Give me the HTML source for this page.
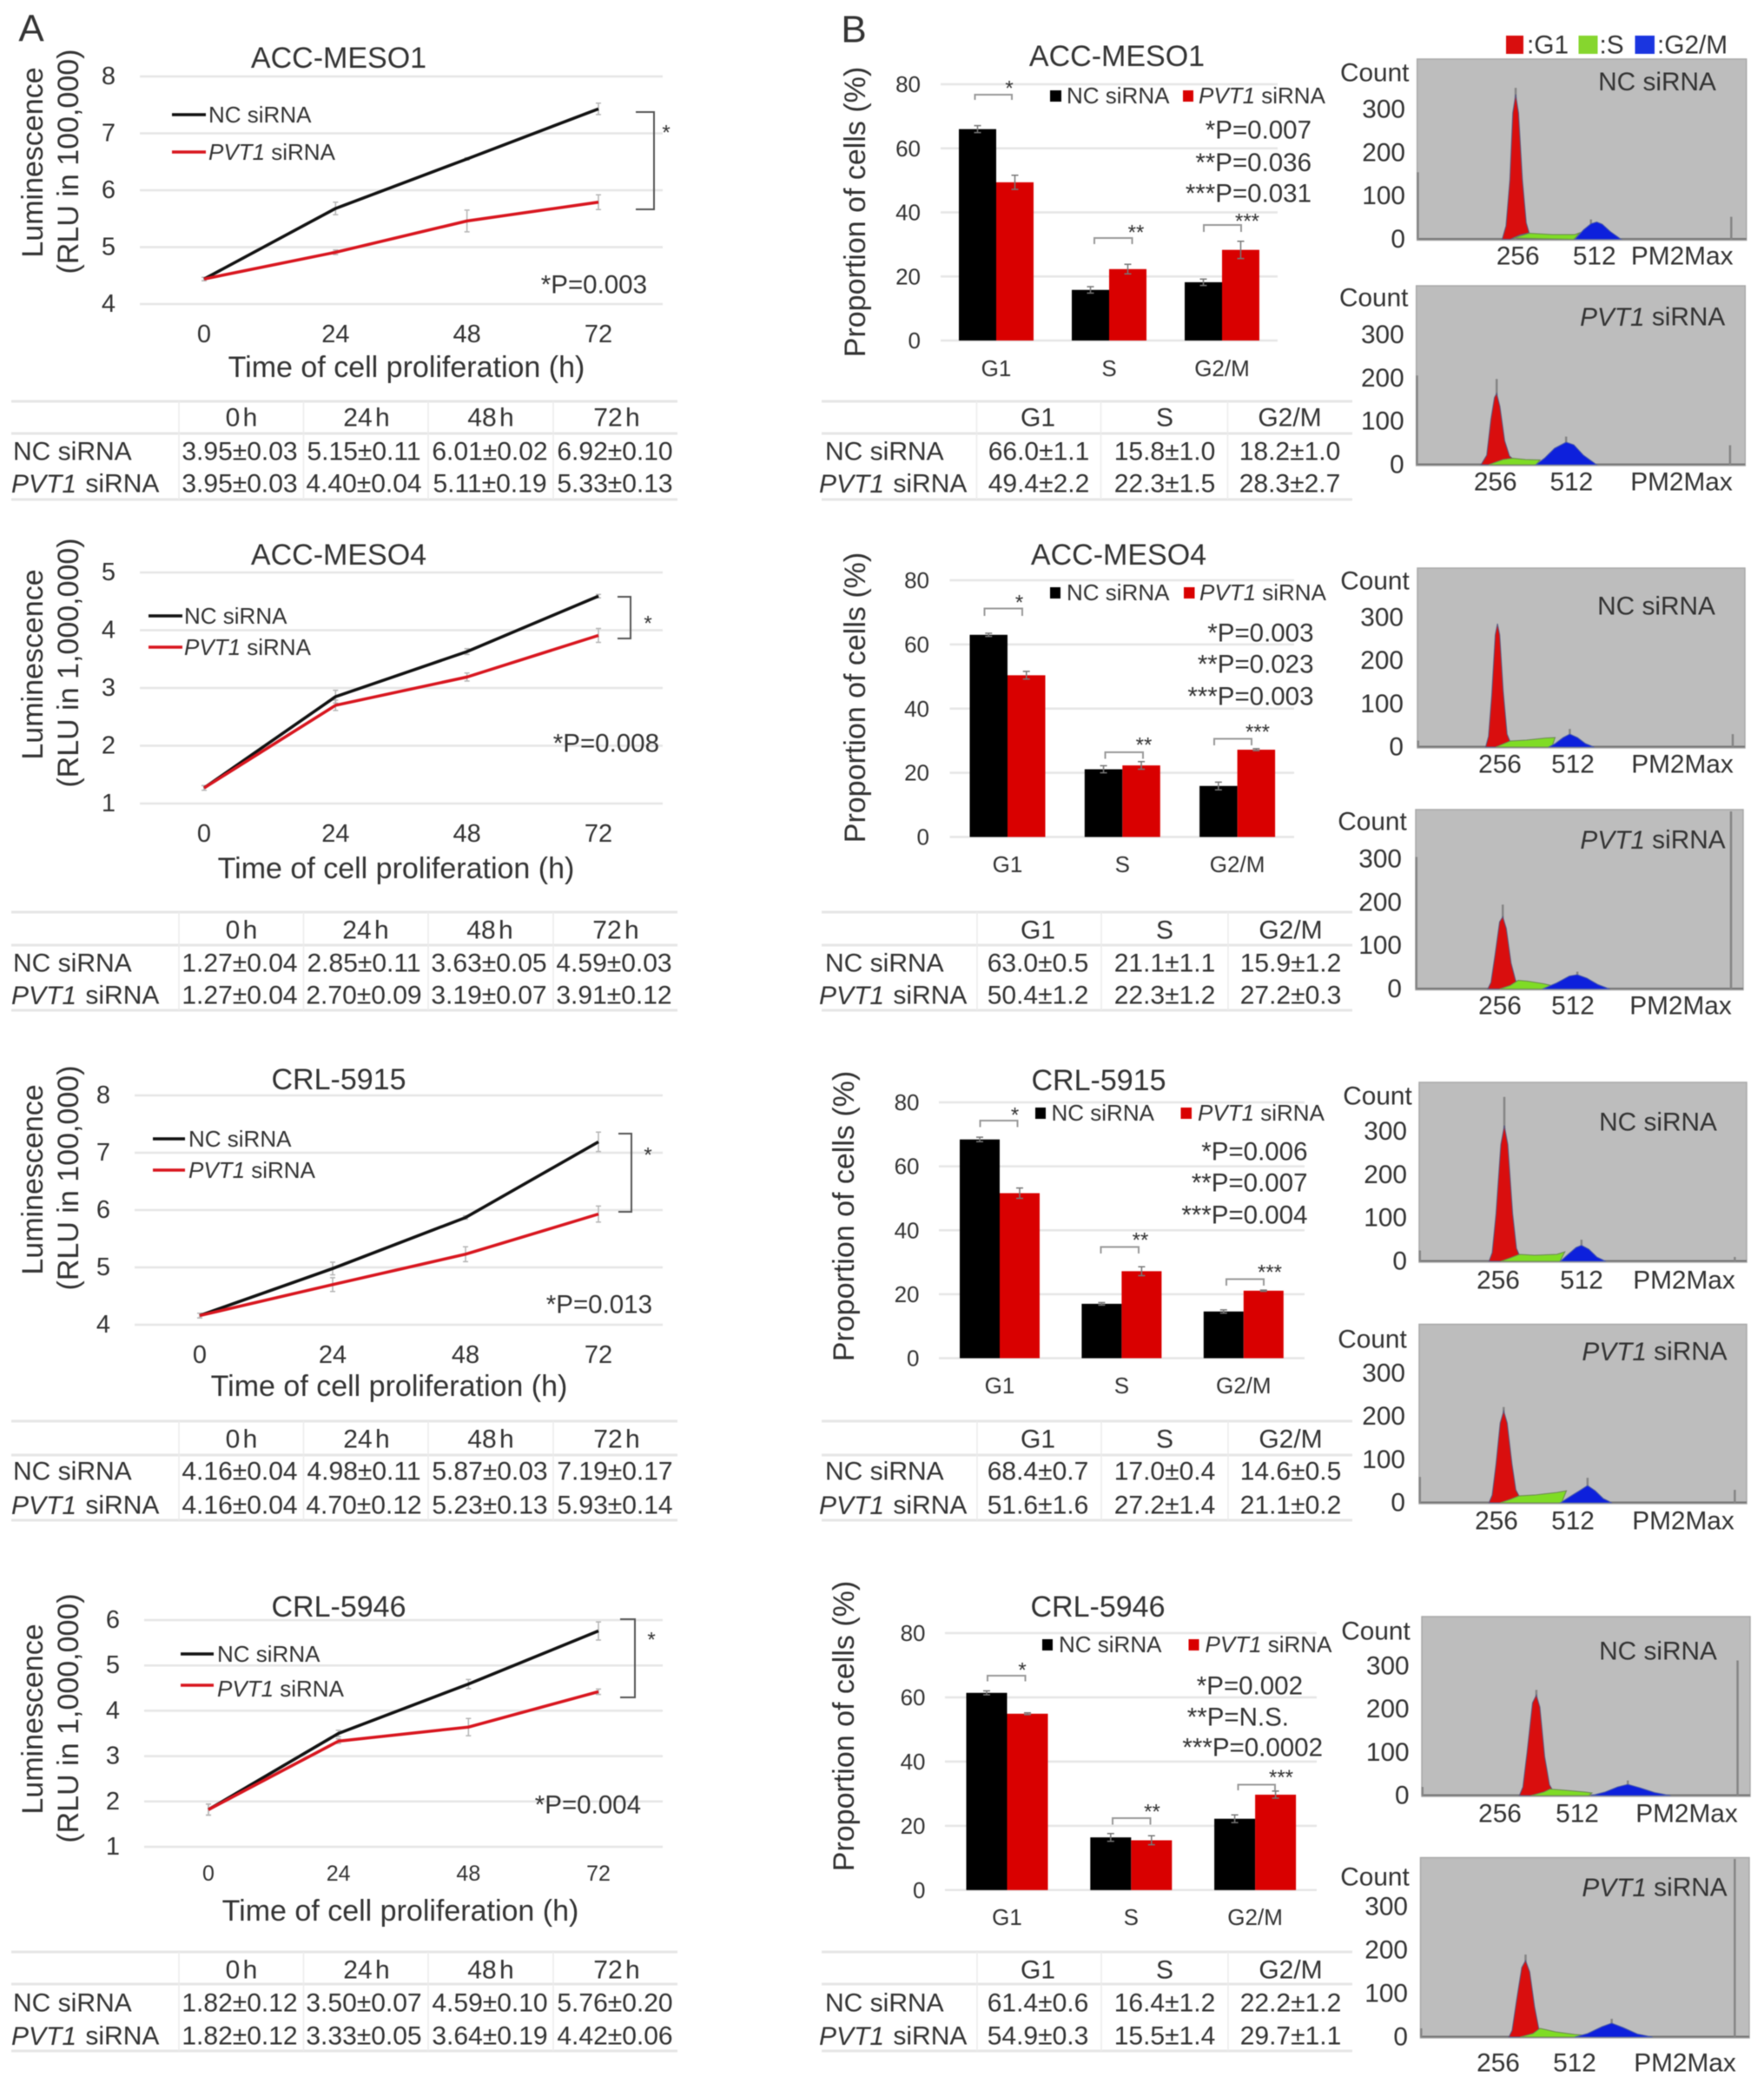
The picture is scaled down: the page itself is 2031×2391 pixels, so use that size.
<!DOCTYPE html>
<html lang="en"><head><meta charset="utf-8"><title>PVT1 siRNA proliferation and cell cycle</title>
<style>
html,body{margin:0;padding:0;background:#fff}
svg{display:block;filter:blur(.6px)}
text{font-family:"Liberation Sans",sans-serif;fill:#333;dominant-baseline:central}
.m{text-anchor:middle}.e{text-anchor:end}
.f42{font-size:44px}.f33{font-size:34px}.f31{font-size:34px}.f30{font-size:30px}.f295{font-size:29.5px}.f28{font-size:29.8px}.f26{font-size:26px}
.st{font-size:24px;text-anchor:middle;transform:translateY(6px)}
.h{word-spacing:-5px}.w{word-spacing:2px}
i,.i{font-style:italic}
.hl{fill:none;stroke:#e6e6e6;stroke-width:3}.vl{fill:none;stroke:#ececec;stroke-width:1.5}
.br{fill:none;stroke:#555;stroke-width:2}.sb{fill:none;stroke:#999;stroke-width:2}
</style></head><body>
<svg id="figure" width="2031" height="2391" viewBox="0 0 2031 2391">
<rect width="2031" height="2391" fill="#fff"/>
<g id="marks"></g>

<!-- ROW 1 -->
<g>
<text class="f42 m" x="36" y="33">A</text>
<text class="f33 m" x="390" y="67">ACC-MESO1</text>
<text class="f33 m" x="38" y="187" transform="rotate(-90 38 187)">Luminescence</text>
<text class="f33 m" x="79" y="186" transform="rotate(-90 79 186)">(RLU in 100,000)</text>
<text class="f33 m" x="468" y="423">Time of cell proliferation (h)</text>
<path d="M198 132H237" stroke="#111" stroke-width="3.5"/>
<text class="f26" x="240" y="132">NC siRNA</text>
<path d="M198 175H237" stroke="#d8151e" stroke-width="3.5"/>
<text class="f26" x="240" y="175"><tspan class="i">PVT1</tspan> siRNA</text>
<path class="br" d="M732 129H753V241H732"/>
<text class="st" x="767" y="147">*</text>
<text class="f295 e" x="745" y="328">*P=0.003</text>
<path class="hl" d="M13 462H780M13 499H780M13 575H780"/>
<path class="vl" d="M206 462V575M349.500 462V575M493 462V575M637 462V575"/>
<text class="f30 m h" x="278" y="481">0 h</text>
<text class="f30 m h" x="422" y="481">24 h</text>
<text class="f30 m h" x="565" y="481">48 h</text>
<text class="f30 m h" x="710" y="481">72 h</text>
<text class="f30" x="15" y="520">NC siRNA</text>
<text class="f30 m" x="276" y="520">3.95±0.03</text>
<text class="f30 m" x="419" y="520">5.15±0.11</text>
<text class="f30 m" x="564" y="520">6.01±0.02</text>
<text class="f30 m" x="708" y="520">6.92±0.10</text>
<text class="f30 w" x="13" y="557"><tspan class="i">PVT1</tspan> siRNA</text>
<text class="f30 m" x="276" y="557">3.95±0.03</text>
<text class="f30 m" x="419" y="557">4.40±0.04</text>
<text class="f30 m" x="564" y="557">5.11±0.19</text>
<text class="f30 m" x="708" y="557">5.33±0.13</text>
</g>
<g>
<text class="f42 m" x="983" y="34">B</text>
<text class="f33 m" x="1286" y="65">ACC-MESO1</text>
<text class="f31 m" x="985" y="244" transform="rotate(-90 985 244)">Proportion of cells (%)</text>
<rect x="1209" y="104" width="13" height="13" fill="#000"/>
<text class="f26" x="1228" y="110">NC siRNA</text>
<rect x="1362" y="104" width="12" height="13" fill="#d90000"/>
<text class="f26" x="1380" y="110"><tspan class="i">PVT1</tspan> siRNA</text>
<text class="f295 e" x="1510" y="150">*P=0.007</text>
<text class="f295 e" x="1510" y="187.500">**P=0.036</text>
<text class="f295 e" x="1510" y="223">***P=0.031</text>
<path class="sb" d="M1122.500 115V109H1165V115"/>
<path class="sb" d="M1260 281V274H1303.500V281"/>
<path class="sb" d="M1386 267V259H1429V267"/>
<text class="st" x="1162" y="96">*</text>
<text class="st" x="1308" y="262">**</text>
<text class="st" x="1436" y="249">***</text>
<path class="hl" d="M946 462H1557M946 499H1557M946 575H1557"/>
<path class="vl" d="M1124.500 462V575M1267.500 462V575M1413.500 462V575"/>
<text class="f30 m" x="1195" y="481">G1</text>
<text class="f30 m" x="1341" y="481">S</text>
<text class="f30 m" x="1485" y="481">G2/M</text>
<text class="f30" x="950" y="520">NC siRNA</text>
<text class="f30 m" x="1196" y="520">66.0±1.1</text>
<text class="f30 m" x="1341" y="520">15.8±1.0</text>
<text class="f30 m" x="1485" y="520">18.2±1.0</text>
<text class="f30 w" x="943" y="557"><tspan class="i">PVT1</tspan> siRNA</text>
<text class="f30 m" x="1196" y="557">49.4±2.2</text>
<text class="f30 m" x="1341" y="557">22.3±1.5</text>
<text class="f30 m" x="1485" y="557">28.3±2.7</text>
</g>
<g>
<rect x="1734" y="41" width="20" height="21" fill="#d90e0e"/>
<text class="f28" x="1758" y="52">:G1</text>
<rect x="1817.500" y="41" width="22" height="21" fill="#86d62e"/>
<text class="f28" x="1841.500" y="52">:S</text>
<rect x="1882.500" y="41" width="22.500" height="21" fill="#1a35e0"/>
<text class="f28" x="1908" y="52">:G2/M</text>
</g>
<g>
<text class="f28 m" x="1582.700" y="84">Count</text>
<text class="f28 m" x="1908" y="94.500">NC siRNA</text>
<text class="f28 m" x="1747.700" y="295">256</text>
<text class="f28 m" x="1835.700" y="295">512</text>
<text class="f28 m" x="1936.700" y="295">PM2Max</text>
<text class="f28 m" x="1581.700" y="343">Count</text>
<text class="f28 m" x="1902.700" y="365"><tspan class="i">PVT1</tspan> siRNA</text>
<text class="f28 m" x="1721.700" y="555">256</text>
<text class="f28 m" x="1809.300" y="555">512</text>
<text class="f28 m" x="1936" y="555">PM2Max</text>
</g>

<!-- ROW 2 -->
<g>
<text class="f33 m" x="390" y="639">ACC-MESO4</text>
<text class="f33 m" x="38" y="765" transform="rotate(-90 38 765)">Luminescence</text>
<text class="f33 m" x="79" y="763" transform="rotate(-90 79 763)">(RLU in 1,000,000)</text>
<text class="f33 m" x="456" y="1000">Time of cell proliferation (h)</text>
<path d="M171 709H210" stroke="#111" stroke-width="3.5"/>
<text class="f26" x="212" y="709">NC siRNA</text>
<path d="M171 745H210" stroke="#d8151e" stroke-width="3.5"/>
<text class="f26" x="212" y="745"><tspan class="i">PVT1</tspan> siRNA</text>
<path class="br" d="M711 687H726V735H711"/>
<text class="st" x="746" y="712">*</text>
<text class="f295 e" x="759" y="856">*P=0.008</text>
<path class="hl" d="M13 1050H780M13 1088H780M13 1163H780"/>
<path class="vl" d="M206 1050V1163M349.500 1050V1163M493 1050V1163M637 1050V1163"/>
<text class="f30 m h" x="278" y="1071">0 h</text>
<text class="f30 m h" x="421" y="1071">24 h</text>
<text class="f30 m h" x="564" y="1071">48 h</text>
<text class="f30 m h" x="709" y="1071">72 h</text>
<text class="f30" x="15" y="1109">NC siRNA</text>
<text class="f30 m" x="276" y="1109">1.27±0.04</text>
<text class="f30 m" x="419" y="1109">2.85±0.11</text>
<text class="f30 m" x="563" y="1109">3.63±0.05</text>
<text class="f30 m" x="707" y="1109">4.59±0.03</text>
<text class="f30 w" x="13" y="1146"><tspan class="i">PVT1</tspan> siRNA</text>
<text class="f30 m" x="276" y="1146">1.27±0.04</text>
<text class="f30 m" x="419" y="1146">2.70±0.09</text>
<text class="f30 m" x="563" y="1146">3.19±0.07</text>
<text class="f30 m" x="707" y="1146">3.91±0.12</text>
</g>
<g>
<text class="f33 m" x="1288" y="639">ACC-MESO4</text>
<text class="f31 m" x="985" y="803" transform="rotate(-90 985 803)">Proportion of cells (%)</text>
<rect x="1209" y="676" width="12" height="13" fill="#000"/>
<text class="f26" x="1228" y="682">NC siRNA</text>
<rect x="1363" y="676" width="12.500" height="13" fill="#d90000"/>
<text class="f26" x="1381" y="682"><tspan class="i">PVT1</tspan> siRNA</text>
<text class="f295 e" x="1512.500" y="729">*P=0.003</text>
<text class="f295 e" x="1512.500" y="765">**P=0.023</text>
<text class="f295 e" x="1512.500" y="802">***P=0.003</text>
<path class="sb" d="M1133.500 709V700.500H1177V709"/>
<path class="sb" d="M1272.500 873.500V866H1316V873.500"/>
<path class="sb" d="M1398 858V850.500H1441V858"/>
<text class="st" x="1173.500" y="688">*</text>
<text class="st" x="1317" y="852">**</text>
<text class="st" x="1448" y="837">***</text>
<path class="hl" d="M946 1050H1557M946 1088H1557M946 1163H1557"/>
<path class="vl" d="M1125 1050V1163M1268 1050V1163M1414 1050V1163"/>
<text class="f30 m" x="1195" y="1071">G1</text>
<text class="f30 m" x="1341" y="1071">S</text>
<text class="f30 m" x="1486" y="1071">G2/M</text>
<text class="f30" x="950" y="1109">NC siRNA</text>
<text class="f30 m" x="1195" y="1109">63.0±0.5</text>
<text class="f30 m" x="1341" y="1109">21.1±1.1</text>
<text class="f30 m" x="1486" y="1109">15.9±1.2</text>
<text class="f30 w" x="943" y="1146"><tspan class="i">PVT1</tspan> siRNA</text>
<text class="f30 m" x="1195" y="1146">50.4±1.2</text>
<text class="f30 m" x="1341" y="1146">22.3±1.2</text>
<text class="f30 m" x="1486" y="1146">27.2±0.3</text>
</g>
<g>
<text class="f28 m" x="1583" y="669">Count</text>
<text class="f28 m" x="1907" y="698">NC siRNA</text>
<text class="f28 m" x="1727" y="880">256</text>
<text class="f28 m" x="1811" y="880">512</text>
<text class="f28 m" x="1937" y="880">PM2Max</text>
<text class="f28 m" x="1580" y="946">Count</text>
<text class="f28 m" x="1903" y="967"><tspan class="i">PVT1</tspan> siRNA</text>
<text class="f28 m" x="1727" y="1158">256</text>
<text class="f28 m" x="1811" y="1158">512</text>
<text class="f28 m" x="1935" y="1158">PM2Max</text>
</g>

<!-- ROW 3 -->
<g>
<text class="f33 m" x="390" y="1243">CRL-5915</text>
<text class="f33 m" x="38" y="1358" transform="rotate(-90 38 1358)">Luminescence</text>
<text class="f33 m" x="79" y="1356" transform="rotate(-90 79 1356)">(RLU in 100,000)</text>
<text class="f33 m" x="448" y="1596">Time of cell proliferation (h)</text>
<path d="M176 1311H213" stroke="#111" stroke-width="3.5"/>
<text class="f26" x="217" y="1311">NC siRNA</text>
<path d="M176 1347H213" stroke="#d8151e" stroke-width="3.5"/>
<text class="f26" x="217" y="1347"><tspan class="i">PVT1</tspan> siRNA</text>
<path class="br" d="M712 1305H727V1395H712"/>
<text class="st" x="746" y="1324">*</text>
<text class="f295 e" x="751" y="1502">*P=0.013</text>
<path class="hl" d="M13 1636H780M13 1675H780M13 1750H780"/>
<path class="vl" d="M206 1636V1750M349.500 1636V1750M493 1636V1750M637 1636V1750"/>
<text class="f30 m h" x="278" y="1657">0 h</text>
<text class="f30 m h" x="422" y="1657">24 h</text>
<text class="f30 m h" x="565" y="1657">48 h</text>
<text class="f30 m h" x="710" y="1657">72 h</text>
<text class="f30" x="15" y="1694">NC siRNA</text>
<text class="f30 m" x="276" y="1694">4.16±0.04</text>
<text class="f30 m" x="419" y="1694">4.98±0.11</text>
<text class="f30 m" x="564" y="1694">5.87±0.03</text>
<text class="f30 m" x="708" y="1694">7.19±0.17</text>
<text class="f30 w" x="13" y="1733"><tspan class="i">PVT1</tspan> siRNA</text>
<text class="f30 m" x="276" y="1733">4.16±0.04</text>
<text class="f30 m" x="419" y="1733">4.70±0.12</text>
<text class="f30 m" x="564" y="1733">5.23±0.13</text>
<text class="f30 m" x="708" y="1733">5.93±0.14</text>
</g>
<g>
<text class="f33 m" x="1265" y="1244">CRL-5915</text>
<text class="f31 m" x="972" y="1400" transform="rotate(-90 972 1400)">Proportion of cells (%)</text>
<rect x="1192" y="1275" width="12" height="13" fill="#000"/>
<text class="f26" x="1210.500" y="1281">NC siRNA</text>
<rect x="1359.500" y="1275" width="12.500" height="13" fill="#d90000"/>
<text class="f26" x="1379" y="1281"><tspan class="i">PVT1</tspan> siRNA</text>
<text class="f295 e" x="1505.500" y="1326">*P=0.006</text>
<text class="f295 e" x="1505.500" y="1362">**P=0.007</text>
<text class="f295 e" x="1505.500" y="1399">***P=0.004</text>
<path class="sb" d="M1128.500 1297.500V1290H1171.500V1297.500"/>
<path class="sb" d="M1267.500 1443V1435.500H1311V1443"/>
<path class="sb" d="M1412 1480V1472.500H1455V1480"/>
<text class="st" x="1168.500" y="1278">*</text>
<text class="st" x="1313" y="1422">**</text>
<text class="st" x="1462" y="1459">***</text>
<path class="hl" d="M946 1636H1557M946 1675H1557M946 1750H1557"/>
<path class="vl" d="M1125 1636V1750M1268 1636V1750M1414 1636V1750"/>
<text class="f30 m" x="1195" y="1657">G1</text>
<text class="f30 m" x="1341" y="1657">S</text>
<text class="f30 m" x="1486" y="1657">G2/M</text>
<text class="f30" x="950" y="1694">NC siRNA</text>
<text class="f30 m" x="1195" y="1694">68.4±0.7</text>
<text class="f30 m" x="1341" y="1694">17.0±0.4</text>
<text class="f30 m" x="1486" y="1694">14.6±0.5</text>
<text class="f30 w" x="943" y="1733"><tspan class="i">PVT1</tspan> siRNA</text>
<text class="f30 m" x="1195" y="1733">51.6±1.6</text>
<text class="f30 m" x="1341" y="1733">27.2±1.4</text>
<text class="f30 m" x="1486" y="1733">21.1±0.2</text>
</g>
<g>
<text class="f28 m" x="1586" y="1262">Count</text>
<text class="f28 m" x="1909" y="1292">NC siRNA</text>
<text class="f28 m" x="1725" y="1474">256</text>
<text class="f28 m" x="1821" y="1474">512</text>
<text class="f28 m" x="1939" y="1474">PM2Max</text>
<text class="f28 m" x="1580" y="1542">Count</text>
<text class="f28 m" x="1905" y="1556"><tspan class="i">PVT1</tspan> siRNA</text>
<text class="f28 m" x="1723" y="1751">256</text>
<text class="f28 m" x="1811" y="1751">512</text>
<text class="f28 m" x="1938" y="1751">PM2Max</text>
</g>

<!-- ROW 4 -->
<g>
<text class="f33 m" x="390" y="1850">CRL-5946</text>
<text class="f33 m" x="38" y="1979" transform="rotate(-90 38 1979)">Luminescence</text>
<text class="f33 m" x="79" y="1978" transform="rotate(-90 79 1978)">(RLU in 1,000,000)</text>
<text class="f33 m" x="461" y="2200">Time of cell proliferation (h)</text>
<path d="M208 1904H246" stroke="#111" stroke-width="3.5"/>
<text class="f26" x="250" y="1904">NC siRNA</text>
<path d="M208 1940H246" stroke="#d8151e" stroke-width="3.5"/>
<text class="f26" x="250" y="1944"><tspan class="i">PVT1</tspan> siRNA</text>
<path class="br" d="M714 1864H731V1954H714"/>
<text class="st" x="750" y="1882">*</text>
<text class="f295 e" x="738" y="2078">*P=0.004</text>
<path class="hl" d="M13 2247H780M13 2284H780M13 2361H780"/>
<path class="vl" d="M206 2247V2361M349.500 2247V2361M493 2247V2361M637 2247V2361"/>
<text class="f30 m h" x="278" y="2268">0 h</text>
<text class="f30 m h" x="422" y="2268">24 h</text>
<text class="f30 m h" x="565" y="2268">48 h</text>
<text class="f30 m h" x="710" y="2268">72 h</text>
<text class="f30" x="15" y="2306">NC siRNA</text>
<text class="f30 m" x="276" y="2306">1.82±0.12</text>
<text class="f30 m" x="419" y="2306">3.50±0.07</text>
<text class="f30 m" x="564" y="2306">4.59±0.10</text>
<text class="f30 m" x="708" y="2306">5.76±0.20</text>
<text class="f30 w" x="13" y="2344"><tspan class="i">PVT1</tspan> siRNA</text>
<text class="f30 m" x="276" y="2344">1.82±0.12</text>
<text class="f30 m" x="419" y="2344">3.33±0.05</text>
<text class="f30 m" x="564" y="2344">3.64±0.19</text>
<text class="f30 m" x="708" y="2344">4.42±0.06</text>
</g>
<g>
<text class="f33 m" x="1264" y="1850">CRL-5946</text>
<text class="f31 m" x="972" y="1987" transform="rotate(-90 972 1987)">Proportion of cells (%)</text>
<rect x="1200" y="1887" width="12" height="13" fill="#000"/>
<text class="f26" x="1219" y="1893">NC siRNA</text>
<rect x="1368.500" y="1887" width="12" height="13" fill="#d90000"/>
<text class="f26" x="1387.500" y="1893"><tspan class="i">PVT1</tspan> siRNA</text>
<text class="f295 e" x="1500" y="1941">*P=0.002</text>
<text class="f295 e" x="1484" y="1977">**P=N.S.</text>
<text class="f295 e" x="1523" y="2012">***P=0.0002</text>
<path class="sb" d="M1137 1935.500V1929H1180.500V1935.500"/>
<path class="sb" d="M1281 2100.500V2093H1324.500V2100.500"/>
<path class="sb" d="M1425.500 2061V2054.500H1468V2061"/>
<text class="st" x="1177" y="1917">*</text>
<text class="st" x="1326.500" y="2080">**</text>
<text class="st" x="1475" y="2040.500">***</text>
<path class="hl" d="M946 2247H1557M946 2284H1557M946 2361H1557"/>
<path class="vl" d="M1125 2247V2361M1268 2247V2361M1414 2247V2361"/>
<text class="f30 m" x="1195" y="2268">G1</text>
<text class="f30 m" x="1341" y="2268">S</text>
<text class="f30 m" x="1486" y="2268">G2/M</text>
<text class="f30" x="950" y="2306">NC siRNA</text>
<text class="f30 m" x="1195" y="2306">61.4±0.6</text>
<text class="f30 m" x="1341" y="2306">16.4±1.2</text>
<text class="f30 m" x="1486" y="2306">22.2±1.2</text>
<text class="f30 w" x="943" y="2344"><tspan class="i">PVT1</tspan> siRNA</text>
<text class="f30 m" x="1195" y="2344">54.9±0.3</text>
<text class="f30 m" x="1341" y="2344">15.5±1.4</text>
<text class="f30 m" x="1486" y="2344">29.7±1.1</text>
</g>
<g>
<text class="f28 m" x="1584" y="1878">Count</text>
<text class="f28 m" x="1909" y="1901">NC siRNA</text>
<text class="f28 m" x="1727" y="2088">256</text>
<text class="f28 m" x="1816" y="2088">512</text>
<text class="f28 m" x="1942" y="2088">PM2Max</text>
<text class="f28 m" x="1583" y="2161">Count</text>
<text class="f28 m" x="1905" y="2173"><tspan class="i">PVT1</tspan> siRNA</text>
<text class="f28 m" x="1725" y="2375">256</text>
<text class="f28 m" x="1813" y="2375">512</text>
<text class="f28 m" x="1940" y="2375">PM2Max</text>
</g>
</svg>
<script>
/* ---------- shared axis data ---------- */
const hours = [0, 24, 48, 72];
const timeLabels = ['0', '24', '48', '72'];
const phaseLabels = ['G1', 'S', 'G2/M'];
const barTicks = [0, 20, 40, 60, 80];
const countTicks = [0, 100, 200, 300];

/* ---------- proliferation line series ---------- */
const meso1Ticks = [4, 5, 6, 7, 8];
const meso1Nc = [4.44, 5.68, 6.55, 7.43];
const meso1NcErr = [0.03, 0.11, 0.02, 0.10];
const meso1Pvt = [4.44, 4.91, 5.46, 5.79];
const meso1PvtErr = [0.03, 0.04, 0.19, 0.13];

const meso4Ticks = [1, 2, 3, 4, 5];
const meso4Nc = [1.27, 2.85, 3.63, 4.59];
const meso4NcErr = [0.04, 0.11, 0.05, 0.03];
const meso4Pvt = [1.27, 2.70, 3.19, 3.91];
const meso4PvtErr = [0.04, 0.09, 0.07, 0.12];

const crl5915Ticks = [4, 5, 6, 7, 8];
const crl5915Nc = [4.16, 4.98, 5.87, 7.19];
const crl5915NcErr = [0.04, 0.11, 0.03, 0.17];
const crl5915Pvt = [4.16, 4.70, 5.23, 5.93];
const crl5915PvtErr = [0.04, 0.12, 0.13, 0.14];

const crl5946Ticks = [1, 2, 3, 4, 5, 6];
const crl5946Nc = [1.82, 3.50, 4.59, 5.76];
const crl5946NcErr = [0.12, 0.07, 0.10, 0.20];
const crl5946Pvt = [1.82, 3.33, 3.64, 4.42];
const crl5946PvtErr = [0.12, 0.05, 0.19, 0.06];

/* ---------- cell-cycle bar series ---------- */
const meso1BarNc = [66.0, 15.8, 18.2];
const meso1BarNcErr = [1.1, 1.0, 1.0];
const meso1BarPvt = [49.4, 22.3, 28.3];
const meso1BarPvtErr = [2.2, 1.5, 2.7];

const meso4BarNc = [63.0, 21.1, 15.9];
const meso4BarNcErr = [0.5, 1.1, 1.2];
const meso4BarPvt = [50.4, 22.3, 27.2];
const meso4BarPvtErr = [1.2, 1.2, 0.3];

const crl5915BarNc = [68.4, 17.0, 14.6];
const crl5915BarNcErr = [0.7, 0.4, 0.5];
const crl5915BarPvt = [51.6, 27.2, 21.1];
const crl5915BarPvtErr = [1.6, 1.4, 0.2];

const crl5946BarNc = [61.4, 16.4, 22.2];
const crl5946BarNcErr = [0.6, 1.2, 1.2];
const crl5946BarPvt = [54.9, 15.5, 29.7];
const crl5946BarPvtErr = [0.3, 1.4, 1.1];

/* ---------- flow histograms: [channel, count] outlines ---------- */
const meso1NcG1 = [[264,0],[276,31],[288,138],[297,292],[306,335],[315,292],[327,138],[339,38],[348,15],[320,10],[301,4],[290,0]];
const meso1NcS = [[300,3],[348,14],[420,11],[490,11],[505,15],[490,2],[485,0]];
const meso1NcG2m = [[490,0],[517,22],[540,36],[558,40],[575,35],[600,18],[634,0]];
const meso1NcSpikes = [[2,155],[306,350],[540,46],[976,52]];

const meso1PvtG1 = [[201,0],[219,22],[232,105],[243,155],[250,165],[260,135],[275,55],[290,20],[300,14],[270,10],[240,3],[225,0]];
const meso1PvtS = [[225,0],[270,12],[300,15],[340,12],[385,11],[372,0]];
const meso1PvtG2m = [[372,0],[400,16],[430,38],[466,52],[490,46],[520,22],[561,0]];
const meso1PvtSpikes = [[2,206],[250,198],[466,65],[976,45]];

const meso4NcG1 = [[213,0],[222,25],[232,120],[243,260],[250,286],[257,260],[268,130],[280,30],[290,12],[270,6],[245,0]];
const meso4NcS = [[245,0],[270,8],[290,14],[340,16],[400,21],[430,22],[420,0]];
const meso4NcG2m = [[410,0],[430,8],[455,22],[476,30],[500,22],[525,8],[552,0]];
const meso4NcSpikes = [[2,15],[476,42],[985,30]];

const meso4PvtG1 = [[225,0],[235,15],[248,80],[262,155],[272,167],[283,140],[298,60],[312,20],[320,12],[295,6],[265,0]];
const meso4PvtS = [[262,0],[295,8],[320,20],[350,18],[400,12],[430,7],[415,0]];
const meso4PvtG2m = [[396,0],[440,14],[480,30],[505,33],[535,25],[570,10],[606,0]];
const meso4PvtSpikes = [[2,305],[272,195],[505,40],[985,410]];

const crl5915NcG1 = [[218,0],[228,20],[240,110],[255,270],[266,314],[277,270],[292,110],[304,30],[313,14],[285,6],[260,0]];
const crl5915NcS = [[255,0],[285,8],[313,16],[360,14],[430,16],[455,22],[440,0]];
const crl5915NcG2m = [[441,0],[462,14],[490,32],[507,37],[530,28],[555,10],[583,0]];
const crl5915NcSpikes = [[2,25],[266,380],[507,50],[986,10]];

const crl5915PvtG1 = [[218,0],[228,18],[240,90],[253,185],[264,213],[275,185],[290,90],[302,30],[312,16],[285,6],[258,0]];
const crl5915PvtS = [[253,0],[285,8],[312,16],[360,18],[430,24],[460,28],[445,0]];
const crl5915PvtG2m = [[441,0],[470,14],[505,30],[526,40],[550,28],[575,10],[602,0]];
const crl5915PvtSpikes = [[2,60],[264,222],[526,58],[986,30]];

const crl5946NcG1 = [[304,0],[315,20],[328,100],[345,215],[357,233],[368,205],[383,90],[398,25],[408,12],[380,6],[350,0]];
const crl5946NcS = [[340,0],[380,8],[400,15],[450,12],[510,8],[530,6],[520,0]];
const crl5946NcG2m = [[528,0],[570,8],[610,20],[642,26],[680,18],[725,7],[775,0]];
const crl5946NcSpikes = [[2,20],[357,245],[642,35],[984,313]];

const crl5946PvtG1 = [[275,0],[285,15],[298,80],[315,160],[327,176],[340,150],[355,70],[368,20],[380,12],[350,5],[320,0]];
const crl5946PvtS = [[310,0],[350,8],[372,20],[420,12],[480,6],[500,5],[490,0]];
const crl5946PvtG2m = [[480,0],[520,8],[565,24],[595,32],[630,22],[675,7],[722,0]];
const crl5946PvtSpikes = [[2,20],[327,190],[595,42],[978,410]];

/* ---------- drawing ---------- */
const marks = document.getElementById('marks');
const NS = marks.namespaceURI;

function node(tag, parent, attrs) {
  const el = document.createElementNS(NS, tag);
  Object.keys(attrs).forEach(k => el.setAttribute(k, attrs[k]));
  parent.appendChild(el);
  return el;
}

function drawLineChart(id, f, ticks, nc, ncErr, pvt, pvtErr) {
  const xPos = h => f.x0 + h / 72 * (f.x72 - f.x0);
  const lo = ticks[0], hi = ticks[ticks.length - 1];
  const yPos = v => f.bottom - (v - lo) / (hi - lo) * (f.bottom - f.top);
  const g = node('g', marks, {});
  
  
  ticks.forEach(v => {
    const grid = node('line', g, {x1: f.left, x2: f.right, y1: yPos(v), y2: yPos(v), stroke: '#e6e6e6', 'stroke-width': 2.5});
    
    
    const lab = node('text', g, {x: f.tickX, y: yPos(v), 'text-anchor': 'middle', 'font-size': 29});
    
    
    lab.textContent = v;
  });
  hours.forEach((h, i) => {
    const lab = node('text', g, {x: xPos(h), y: f.tickY, 'text-anchor': 'middle', 'font-size': f.xFs});
    
    
    lab.textContent = timeLabels[i];
  });
  [[nc, ncErr, '#111', 'nc'], [pvt, pvtErr, '#d8151e', 'pvt1']].forEach(s => {
    s[0].forEach((v, i) => {
      const x = xPos(hours[i]), y1 = yPos(v - s[1][i]), y2 = yPos(v + s[1][i]);
      const err = node('path', g, {d: 'M' + (x - 3) + ' ' + y1 + 'H' + (x + 3) + 'M' + x + ' ' + y1 + 'V' + y2 + 'M' + (x - 3) + ' ' + y2 + 'H' + (x + 3), fill: 'none', stroke: '#b5b5b5', 'stroke-width': 1.5});
      
      
    });
  });
  [[nc, '#111', 'nc'], [pvt, '#d8151e', 'pvt1']].forEach(s => {
    const pts = s[0].map((v, i) => xPos(hours[i]) + ',' + yPos(v)).join(' ');
    const line = node('polyline', g, {points: pts, fill: 'none', stroke: s[1], 'stroke-width': 3.5, 'stroke-linejoin': 'round'});
    
    
  });
}

function drawBarChart(id, f, nc, ncErr, pvt, pvtErr) {
  const yPos = v => f.y0 - v / 80 * (f.y0 - f.y80);
  const xPos = i => f.c0 + i * f.step;
  const g = node('g', marks, {});
  
  
  barTicks.forEach(v => {
    const grid = node('line', g, {x1: f.left, x2: f.right, y1: yPos(v), y2: yPos(v), stroke: '#e6e6e6', 'stroke-width': 2.5});
    
    
    const lab = node('text', g, {x: f.tickRight, y: yPos(v), 'text-anchor': 'end', 'font-size': 26});
    
    
    lab.textContent = v;
  });
  phaseLabels.forEach((p, i) => {
    const lab = node('text', g, {x: xPos(i), y: f.catY, 'text-anchor': 'middle', 'font-size': 26});
    
    
    lab.textContent = p;
    const black = node('rect', g, {x: xPos(i) - f.barW, y: yPos(nc[i]), width: f.barW, height: yPos(0) - yPos(nc[i]), fill: '#000'});
    
    
    const red = node('rect', g, {x: xPos(i), y: yPos(pvt[i]), width: f.barW, height: yPos(0) - yPos(pvt[i]), fill: '#d90000'});
    
    
    [[nc, ncErr, -f.barW / 2], [pvt, pvtErr, f.barW / 2]].forEach(s => {
      const x = xPos(i) + s[2], y1 = yPos(s[0][i] - s[1][i]), y2 = yPos(s[0][i] + s[1][i]);
      const err = node('path', g, {d: 'M' + (x - 4) + ' ' + y1 + 'H' + (x + 4) + 'M' + x + ' ' + y1 + 'V' + y2 + 'M' + (x - 4) + ' ' + y2 + 'H' + (x + 4), fill: 'none', stroke: '#777', 'stroke-width': 1.5});
      
      
    });
  });
}

function drawHistogram(id, f, g1, s, g2m, spikes) {
  const xPos = ch => f.left + ch / 1023 * (f.right - f.left);
  const yPos = c => f.y0 - c / 300 * (f.y0 - f.y300);
  const toPts = arr => arr.map(p => xPos(p[0]) + ',' + yPos(p[1])).join(' ');
  const g = node('g', marks, {});
  
  
  const plot = node('rect', g, {x: f.left, y: f.top, width: f.right - f.left, height: f.y0 - f.top + 1, fill: '#bdbdbd', stroke: '#a9a9a9', 'stroke-width': 1.5});
  
  
  countTicks.forEach(c => {
    const lab = node('text', g, {x: f.tickRight, y: yPos(c), 'text-anchor': 'end', 'font-size': 29.8});
    
    
    lab.textContent = c;
  });
  const base = node('line', g, {x1: f.left, x2: f.right, y1: yPos(1), y2: yPos(1), stroke: '#777', 'stroke-width': 2});
  
  
  spikes.forEach(p => {
    const spike = node('line', g, {x1: xPos(p[0]), x2: xPos(p[0]), y1: yPos(0), y2: yPos(p[1]), stroke: '#858585', 'stroke-width': 2.5});
    
    
  });
  const red = node('polygon', g, {points: toPts(g1), fill: '#d90e0e', stroke: '#5a5a80', 'stroke-width': 1});
  
  
  const green = node('polygon', g, {points: toPts(s), fill: '#7fdc25', stroke: '#6a8a50', 'stroke-width': 1});
  
  
  const blue = node('polygon', g, {points: toPts(g2m), fill: '#0d20dc', stroke: '#5060a8', 'stroke-width': 1});
  
  
}

drawLineChart('meso1', {left:161, right:763, top:88, bottom:350, x0:235, x72:689, tickX:125, tickY:385, xFs:29}, meso1Ticks, meso1Nc, meso1NcErr, meso1Pvt, meso1PvtErr);
drawLineChart('meso4', {left:161, right:763, top:659, bottom:925, x0:235, x72:689, tickX:125, tickY:960, xFs:29}, meso4Ticks, meso4Nc, meso4NcErr, meso4Pvt, meso4PvtErr);
drawLineChart('crl5915', {left:155, right:763, top:1261, bottom:1525, x0:230, x72:689, tickX:119, tickY:1560, xFs:29}, crl5915Ticks, crl5915Nc, crl5915NcErr, crl5915Pvt, crl5915PvtErr);
drawLineChart('crl5946', {left:166, right:763, top:1865, bottom:2126, x0:240, x72:689, tickX:130, tickY:2157, xFs:25}, crl5946Ticks, crl5946Nc, crl5946NcErr, crl5946Pvt, crl5946PvtErr);

drawBarChart('meso1', {left:1083, right:1471, y80:97, y0:392, c0:1147, step:130, barW:43, tickRight:1060, catY:424}, meso1BarNc, meso1BarNcErr, meso1BarPvt, meso1BarPvtErr);
drawBarChart('meso4', {left:1093.5, right:1490, y80:668, y0:963.5, c0:1160, step:132.3, barW:43.5, tickRight:1070, catY:995}, meso4BarNc, meso4BarNcErr, meso4BarPvt, meso4BarPvtErr);
drawBarChart('crl5915', {left:1081, right:1502, y80:1269, y0:1563.5, c0:1151, step:140.4, barW:46, tickRight:1058.5, catY:1595}, crl5915BarNc, crl5915BarNcErr, crl5915BarPvt, crl5915BarPvtErr);
drawBarChart('crl5946', {left:1088, right:1516, y80:1880, y0:2175.8, c0:1159.5, step:142.8, barW:47, tickRight:1065.5, catY:2207}, crl5946BarNc, crl5946BarNcErr, crl5946BarPvt, crl5946BarPvtErr);

drawHistogram('meso1-nc', {left:1631.7, right:2010.7, top:68, y0:275.5, y300:126, tickRight:1618}, meso1NcG1, meso1NcS, meso1NcG2m, meso1NcSpikes);
drawHistogram('meso1-pvt1', {left:1630.7, right:2009.3, top:329, y0:535, y300:385.4, tickRight:1616.7}, meso1PvtG1, meso1PvtS, meso1PvtG2m, meso1PvtSpikes);
drawHistogram('meso4-nc', {left:1632, right:2009, top:654, y0:860, y300:711, tickRight:1616}, meso4NcG1, meso4NcS, meso4NcG2m, meso4NcSpikes);
drawHistogram('meso4-pvt1', {left:1630, right:2007, top:932, y0:1138.5, y300:989, tickRight:1614}, meso4PvtG1, meso4PvtS, meso4PvtG2m, meso4PvtSpikes);
drawHistogram('crl5915-nc', {left:1634, right:2011, top:1246, y0:1452, y300:1302.6, tickRight:1620}, crl5915NcG1, crl5915NcS, crl5915NcG2m, crl5915NcSpikes);
drawHistogram('crl5915-pvt1', {left:1634, right:2011, top:1524.5, y0:1730, y300:1581, tickRight:1618}, crl5915PvtG1, crl5915PvtS, crl5915PvtG2m, crl5915PvtSpikes);
drawHistogram('crl5946-nc', {left:1637, right:2015, top:1861, y0:2067, y300:1918, tickRight:1622.6}, crl5946NcG1, crl5946NcS, crl5946NcG2m, crl5946NcSpikes);
drawHistogram('crl5946-pvt1', {left:1635.5, right:2014, top:2138.5, y0:2345, y300:2195, tickRight:1621}, crl5946PvtG1, crl5946PvtS, crl5946PvtG2m, crl5946PvtSpikes);
</script>
</body></html>
